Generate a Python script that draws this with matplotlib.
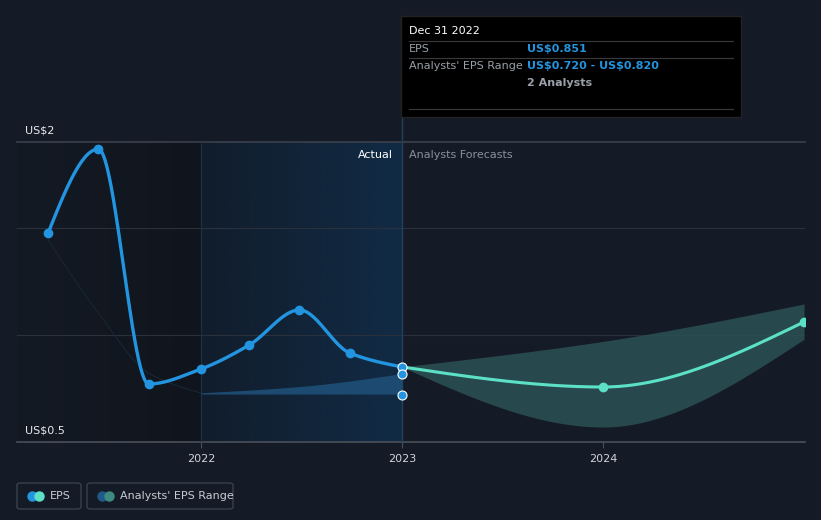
import matplotlib.pyplot as plt
import numpy as np
from matplotlib.patches import FancyBboxPatch, Rectangle

plt.rcParams['text.parse_math'] = False

# EPS history (fractional years, US$)
eps_t = [2021.24, 2021.49, 2021.74, 2022.0, 2022.24, 2022.49, 2022.74, 2023.0]
eps_v = [1.477, 1.869, 0.771, 0.841, 0.953, 1.117, 0.916, 0.851]

# analyst forecast
fc_t = [2023.0, 2024.0, 2025.0]
fc_v = [0.851, 0.757, 1.061]
fc_hi = [0.851, 0.970, 1.145]
fc_lo = [0.851, 0.570, 0.980]

# past analysts' range
past_t = [2022.0, 2022.5, 2023.0]
past_hi = [0.730, 0.760, 0.820]
past_lo = [0.724, 0.724, 0.724]
range_pts = [0.820, 0.720]

# faint old-estimate trace
trace_t = [2021.24, 2021.49, 2021.74, 2022.0]
trace_v = [1.444, 1.103, 0.822, 0.729]

BG = '#151b26'
BLUE = '#2394df'
TEAL = '#5ce1c6'


def monotone(x, y, n=80):
    """Monotone cubic curve through the points (like d3 curveMonotoneX)."""
    x = np.asarray(x, float)
    y = np.asarray(y, float)
    h = np.diff(x)
    d = np.diff(y) / h
    m = np.zeros_like(y)
    for i in range(1, len(y) - 1):
        if d[i - 1] * d[i] > 0:
            w1 = 2 * h[i] + h[i - 1]
            w2 = h[i] + 2 * h[i - 1]
            m[i] = (w1 + w2) / (w1 / d[i - 1] + w2 / d[i])
    m[0] = (3 * d[0] - m[1]) / 2
    m[-1] = (3 * d[-1] - m[-2]) / 2
    xs, ys = [], []
    for i in range(len(h)):
        t = np.linspace(0, 1, n)
        h00 = 2 * t**3 - 3 * t**2 + 1
        h10 = t**3 - 2 * t**2 + t
        h01 = -2 * t**3 + 3 * t**2
        h11 = t**3 - t**2
        xs.append(x[i] + t * h[i])
        ys.append(h00 * y[i] + h10 * h[i] * m[i] + h01 * y[i + 1] + h11 * h[i] * m[i + 1])
    return np.concatenate(xs), np.concatenate(ys)


fig = plt.figure(figsize=(8.21, 5.2), dpi=100, facecolor=BG)
ax = fig.add_axes([17 / 821, 78 / 520, 788 / 821, 300 / 520])
ax.set_facecolor(BG)
x0, x1 = 2021.085, 2025.005
y0, y1 = 0.5, 0.5 + 300 / 214
ax.set_xlim(x0, x1)
ax.set_ylim(y0, y1)

# shaded past regions
g = np.linspace(0, 1, 256).reshape(1, -1)
cm = plt.matplotlib.colors.LinearSegmentedColormap
ax.imshow(g, extent=[x0, 2022.0, y0, y1], aspect='auto', zorder=0, interpolation='bilinear',
          cmap=cm.from_list('a', ['#141a24', '#10151d']))
ax.imshow(g, extent=[2022.0, 2023.0, y0, y1], aspect='auto', zorder=0, interpolation='bilinear',
          cmap=cm.from_list('b', ['#111d2c', '#112b45']))

# grid
for v in [1.0, 1.5]:
    ax.axhline(v, color='#2a313c', lw=0.8, zorder=1)
ax.axhline(y1, color='#3a414c', lw=1.2, zorder=1, clip_on=False)
ax.axhline(y0, color='#4a505a', lw=1.2, zorder=1, clip_on=False)
ax.axvline(2022.0, color='#1e3247', lw=0.8, zorder=1)
ax.axvline(2023.0, color='#24405c', lw=1.0, zorder=1)
ax.plot([2023.0, 2023.0], [y1, y1 + 0.5], color='#24405c', lw=1.0, clip_on=False, zorder=1)

# bands
bx, bhi = monotone(past_t, past_hi)
_, blo = monotone(past_t, past_lo)
ax.fill_between(bx, blo, bhi, color='#1d4a70', lw=0, zorder=2)
tx, tv = monotone(trace_t, trace_v)
ax.plot(tx, tv, color='#182838', lw=0.7, zorder=2)

fx, fhi = monotone(fc_t, fc_hi)
_, flo = monotone(fc_t, fc_lo)
ax.fill_between(fx, flo, fhi, color='#2a4f52', alpha=0.9, lw=0, zorder=2)

# lines
ex, ev = monotone(eps_t, eps_v)
ax.plot(ex, ev, color=BLUE, lw=2.4, zorder=4, solid_capstyle='round')
ax.plot(eps_t[:-1], eps_v[:-1], 'o', color=BLUE, ms=6, zorder=5)
cx, cv = monotone(fc_t, fc_v)
ax.plot(cx, cv, color=TEAL, lw=2.2, zorder=4)
ax.plot(fc_t[1:], fc_v[1:], 'o', color=TEAL, ms=6, zorder=5)
ax.plot([2023.0] * 3, [eps_v[-1]] + range_pts, 'o', color=BLUE, ms=6.5,
        mec='white', mew=0.8, zorder=6)

# ticks
ax.set_xticks([2022, 2023, 2024])
ax.set_xticklabels(['2022', '2023', '2024'], color='#d0d4da', fontsize=8)
ax.tick_params(axis='x', length=4, color='#4a505a', pad=5)
ax.set_yticks([])
for s in ax.spines.values():
    s.set_visible(False)

ax.text(2021.125, y1 + 0.03, 'US$2', color='#e8eaed', fontsize=8, va='bottom')
ax.text(2021.125, y0 + 0.03, 'US$0.5', color='#e8eaed', fontsize=8, va='bottom')
ax.text(2022.955, y1 - 0.06, 'Actual', color='#ffffff', fontsize=8, ha='right', va='center')
ax.text(2023.035, y1 - 0.06, 'Analysts Forecasts', color='#8a9099', fontsize=8, ha='left', va='center')

# tooltip box
fig.patches.append(Rectangle((401 / 821, 1 - 117 / 520), 340 / 821, 101 / 520,
                             transform=fig.transFigure, facecolor='black', edgecolor='#222', zorder=10))
for yy in [41, 58, 109]:
    fig.add_artist(plt.Line2D([409 / 821, 733 / 821], [1 - yy / 520] * 2, color='#3a3a3a', lw=0.8, zorder=11))
fig.text(409 / 821, 1 - 31 / 520, 'Dec 31 2022', color='white', fontsize=8, va='center', zorder=12)
fig.text(409 / 821, 1 - 49 / 520, 'EPS', color='#9aa0a8', fontsize=8, va='center', zorder=12)
fig.text(527 / 821, 1 - 49 / 520, 'US$0.851', color=BLUE, fontsize=8, fontweight='bold', va='center', zorder=12)
fig.text(409 / 821, 1 - 66 / 520, "Analysts' EPS Range", color='#9aa0a8', fontsize=8, va='center', zorder=12)
fig.text(527 / 821, 1 - 66 / 520, 'US$0.720 - US$0.820', color=BLUE, fontsize=8, fontweight='bold', va='center', zorder=12)
fig.text(527 / 821, 1 - 83 / 520, '2 Analysts', color='#9aa0a8', fontsize=8, fontweight='bold', va='center', zorder=12)

# legend
for (lx, lw_, label, c1, c2) in [(17, 64, 'EPS', BLUE, TEAL), (87, 146, "Analysts' EPS Range", '#1f5a88', '#3f8a80')]:
    fig.patches.append(FancyBboxPatch((lx / 821, 1 - 509 / 520), lw_ / 821, 26 / 520,
                                      boxstyle='round,pad=0,rounding_size=0.004', transform=fig.transFigure,
                                      facecolor='none', edgecolor='#3a414c', lw=1))
    fig.add_artist(plt.Line2D([(lx + 15) / 821], [1 - 496 / 520], marker='o', ms=7.5, color=c1, mew=0))
    fig.add_artist(plt.Line2D([(lx + 22) / 821], [1 - 496 / 520], marker='o', ms=7.5, color=c2, mew=0))
    fig.text((lx + 33) / 821, 1 - 496 / 520, label, color='#c8ccd2', fontsize=8, va='center')

fig.savefig('out.png', dpi=100, facecolor=BG)
